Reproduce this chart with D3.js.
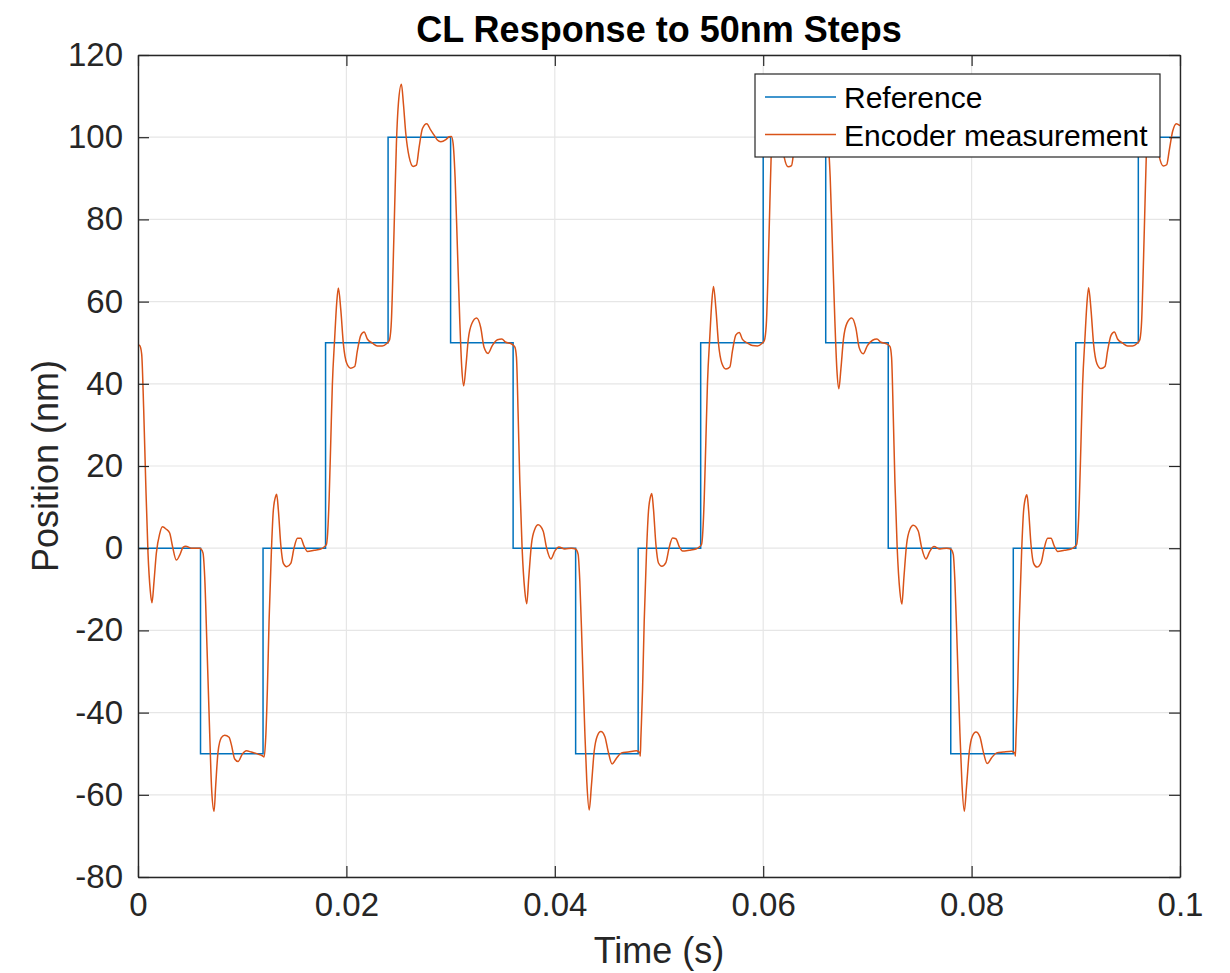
<!DOCTYPE html>
<html>
<head>
<meta charset="utf-8">
<script src="https://cdn.jsdelivr.net/npm/d3@7"></script>
<style>
  body { margin: 0; background: #fff; }
  text { font-family: "Liberation Sans", Arial, Helvetica, sans-serif; fill: #262626; }
</style>
</head>
<body>
<div id="chart"></div>
<script>
// reference (stairs): times where the level changes, and the level held after it
var refStepTimes = [0, 0.00002, 0.006, 0.012, 0.018, 0.024, 0.030, 0.036, 0.042, 0.048,
  0.054, 0.060, 0.066, 0.072, 0.078, 0.084, 0.090, 0.096];
var refLevels = [50, 0, -50, 0, 50, 100, 50, 0, -50, 0, 50, 100, 50, 0, -50, 0, 50, 100];

var encSeg01 = [[0, 49.5], [0.00016, 49.3], [0.00035, 47.3], [0.00055, 33.4], [0.00074, 16.1], [0.00096, -1.2],
  [0.00118, -10.4], [0.00134, -13.3], [0.00154, -8.0], [0.00176, -1.2], [0.00208, 3.5], [0.00234, 5.2],
  [0.00272, 4.6], [0.00304, 3.7], [0.0033, 0.6], [0.00368, -2.9], [0.0040, -1.7], [0.00432, 0.2],
  [0.00458, 0.5], [0.00512, 0.0], [0.00592, 0.0]];
var encSeg02 = [[0.00605, -0.2], [0.00624, -1.2], [0.0064, -6.9], [0.00662, -24], [0.00688, -45], [0.00707, -58.8],
  [0.0073, -64], [0.00746, -57.6], [0.00768, -49.6], [0.0080, -46.1], [0.00832, -45.5], [0.00874, -46],
  [0.00896, -47.8], [0.00928, -51.3], [0.0096, -51.9], [0.01001, -50.1], [0.0104, -49.3], [0.01088, -49.6],
  [0.01152, -50.1], [0.01193, -50.5]];
var encSeg03 = [[0.0121, -50.8], [0.01226, -46], [0.01242, -34], [0.01258, -17.6], [0.0128, -0.8], [0.01299, 9.3],
  [0.01322, 12.7], [0.01331, 13.1], [0.01347, 9.3], [0.0137, 0.9], [0.01395, -3.7], [0.01427, -4.5],
  [0.01466, -3.7], [0.01498, 0.1], [0.0153, 2.4], [0.01562, 2.4], [0.01594, 0.5], [0.01626, -0.8],
  [0.0169, -0.5], [0.01754, -0.2], [0.01786, 0.3]];
var encSeg04 = [[0.01808, 0.9], [0.01817, 2.6], [0.01834, 11.8], [0.0185, 26.1], [0.01865, 39.6], [0.01888, 51.3],
  [0.01907, 59.7], [0.01923, 63.3], [0.01946, 58.1], [0.01971, 49.7], [0.02003, 45], [0.02042, 43.8],
  [0.0208, 44.2], [0.02105, 48], [0.02138, 51.8], [0.0217, 52.6], [0.02201, 50.9], [0.0225, 49.9],
  [0.02297, 49.2], [0.02345, 49.2], [0.02387, 49.8]];
var encSeg05 = [[0.0241, 50.5], [0.02416, 50.9], [0.02432, 55.4], [0.02448, 68.4], [0.02464, 83.8], [0.0248, 98.5],
  [0.02499, 108.2], [0.02528, 112.9], [0.02547, 108.2], [0.0257, 100.9], [0.02602, 95.2], [0.0264, 92.9],
  [0.02672, 93.2], [0.02698, 97.6], [0.0273, 102.1], [0.02771, 103.3], [0.0281, 101.7], [0.02842, 100.5],
  [0.02873, 99.3], [0.02906, 98.9], [0.02954, 99.4], [0.02986, 100.1], [0.03008, 100.2]];
var encSeg06 = [[0.03024, 98.5], [0.03043, 90.3], [0.03065, 73.3], [0.03088, 55.4], [0.03107, 44], [0.03126, 39.5],
  [0.03146, 44], [0.0317, 50.9], [0.03203, 54.6], [0.0325, 56], [0.03289, 53.7], [0.03321, 48.9],
  [0.0336, 47.4], [0.034, 49.3], [0.0345, 50.7], [0.03491, 50.9], [0.0353, 50.1], [0.03578, 49.8]];
var encSeg07 = [[0.03616, 49.0], [0.03632, 46.5], [0.03648, 32.7], [0.03664, 16.4], [0.03686, 0.2], [0.03712, -10.4],
  [0.03731, -13.5], [0.0375, -7.2], [0.03776, 1], [0.03808, 4.6], [0.0384, 5.7], [0.03888, 4.2],
  [0.0392, 0.2], [0.03962, -2.6], [0.04, -0.7], [0.04039, 0.3], [0.04096, -0.2], [0.0416, 0], [0.04199, -0.2]];
var encSeg08 = [[0.04224, -1.5], [0.0424, -8], [0.04262, -24.2], [0.04288, -44.6], [0.04307, -56.7], [0.0433, -63.7],
  [0.04352, -57.6], [0.04378, -49.4], [0.04406, -45.8], [0.04442, -44.6], [0.0448, -45.8], [0.04512, -49.4],
  [0.0455, -52.5], [0.04592, -51.1], [0.0464, -49.8], [0.04704, -49.6], [0.04784, -49.3], [0.04816, -49.8]];
var encSeg09 = [[0.0482, -50.6], [0.04826, -46.2], [0.04842, -34.5], [0.04858, -17.8], [0.0488, -1.0], [0.04899, 9.0],
  [0.04921, 12.8], [0.04931, 13.3], [0.04947, 9.5], [0.0497, 1.0], [0.04995, -3.6], [0.05027, -4.4],
  [0.05066, -3.5], [0.05098, 0.2], [0.0513, 2.5], [0.05162, 2.3], [0.05194, 0.4], [0.05226, -0.7],
  [0.0529, -0.5], [0.05354, -0.2], [0.05386, 0.3]];
var encSeg10 = [[0.05408, 0.9], [0.05417, 2.7], [0.05434, 12], [0.0545, 26.3], [0.05465, 40], [0.05488, 51.6],
  [0.05507, 60], [0.05523, 63.7], [0.05546, 58.3], [0.05571, 49.8], [0.05603, 45], [0.05642, 43.6],
  [0.0568, 44.1], [0.05705, 48], [0.05738, 51.9], [0.0577, 52.5], [0.05801, 50.8], [0.0585, 49.9],
  [0.05897, 49.3], [0.05945, 49.2], [0.05987, 49.8]];
var encSeg11 = [[0.0601, 50.5], [0.06016, 51], [0.06032, 55.5], [0.06048, 68.5], [0.06064, 84], [0.0608, 98.6],
  [0.06099, 108.3], [0.06128, 113], [0.06147, 108.2], [0.0617, 100.8], [0.06202, 95.1], [0.0624, 92.8],
  [0.06272, 93.1], [0.06298, 97.6], [0.0633, 102.2], [0.06371, 103.3], [0.0641, 101.7], [0.06442, 100.4],
  [0.06473, 99.3], [0.06506, 98.9], [0.06554, 99.4], [0.06586, 100.1], [0.06608, 100.3]];
var encSeg12 = [[0.06624, 98.4], [0.06643, 90.2], [0.06665, 73], [0.06688, 55.2], [0.06707, 43.5], [0.06726, 38.8],
  [0.06746, 43.7], [0.0677, 50.8], [0.06803, 54.7], [0.0685, 56], [0.06889, 53.6], [0.06921, 48.8],
  [0.0696, 47.3], [0.07, 49.3], [0.0705, 50.6], [0.07091, 50.9], [0.0713, 50.1], [0.07178, 49.8]];
var encSeg13 = [[0.07216, 49.1], [0.07232, 46.4], [0.07248, 32.5], [0.07264, 16.2], [0.07286, 0], [0.07312, -10.6],
  [0.07331, -13.6], [0.0735, -7.3], [0.07376, 0.9], [0.07408, 4.6], [0.0744, 5.6], [0.07488, 4.2],
  [0.0752, 0.2], [0.07562, -2.6], [0.076, -0.7], [0.07639, 0.4], [0.07696, -0.2], [0.0776, 0], [0.07799, -0.2]];
var encSeg14 = [[0.07824, -1.5], [0.0784, -8.2], [0.07862, -24.5], [0.07888, -45], [0.07907, -57], [0.0793, -64],
  [0.07952, -57.8], [0.07978, -49.5], [0.08006, -45.8], [0.08042, -44.7], [0.0808, -45.9], [0.08112, -49.5],
  [0.0815, -52.4], [0.08192, -51], [0.0824, -49.8], [0.08304, -49.6], [0.08384, -49.4], [0.08416, -49.9]];
var encSeg15 = [[0.0842, -50.6], [0.08426, -46], [0.08442, -34.2], [0.08458, -17.6], [0.0848, -0.9], [0.08499, 9.1],
  [0.08521, 12.6], [0.08531, 13.0], [0.08547, 9.3], [0.0857, 0.9], [0.08595, -3.7], [0.08627, -4.6],
  [0.08666, -3.6], [0.08698, 0.1], [0.0873, 2.4], [0.08762, 2.4], [0.08794, 0.5], [0.08826, -0.8],
  [0.0889, -0.5], [0.08954, -0.2], [0.08986, 0.3]];
var encSeg16 = [[0.09008, 0.9], [0.09017, 2.6], [0.09034, 11.8], [0.0905, 26], [0.09065, 39.5], [0.09088, 51.2],
  [0.09107, 59.6], [0.09123, 63.4], [0.09146, 58], [0.09171, 49.6], [0.09203, 44.9], [0.09242, 43.7],
  [0.0928, 44.2], [0.09305, 48], [0.09338, 51.8], [0.0937, 52.6], [0.09401, 50.9], [0.0945, 49.9],
  [0.09497, 49.2], [0.09545, 49.2], [0.09587, 49.8]];
var encSeg17 = [[0.0961, 50.5], [0.09616, 50.9], [0.09632, 55.4], [0.09648, 68.4], [0.09664, 83.8], [0.0968, 98.5],
  [0.09699, 108.2], [0.09728, 112.9], [0.09747, 108.2], [0.0977, 100.9], [0.09802, 95.2], [0.0984, 93.0],
  [0.09872, 93.3], [0.09898, 97.0], [0.0993, 101.5], [0.09965, 103.3], [0.1, 102.8]];

var xTicks = [0, 0.02, 0.04, 0.06, 0.08, 0.1];
var xTickLabels = ["0", "0.02", "0.04", "0.06", "0.08", "0.1"];
var yTicks = [-80, -60, -40, -20, 0, 20, 40, 60, 80, 100, 120];
var yTickLabels = ["-80", "-60", "-40", "-20", "0", "20", "40", "60", "80", "100", "120"];

var seriesNames = ["Reference", "Encoder measurement"];
var seriesColors = ["#0072BD", "#D95319"];

var encoder = [].concat(encSeg01, encSeg02, encSeg03, encSeg04, encSeg05, encSeg06, encSeg07, encSeg08,
  encSeg09, encSeg10, encSeg11, encSeg12, encSeg13, encSeg14, encSeg15, encSeg16, encSeg17);

var reference = refStepTimes.map(function (t, i) { return [t, refLevels[i]]; });
reference.push([0.1, refLevels[refLevels.length - 1]]);

var margin = { top: 55, right: 50, bottom: 96, left: 138 },
  width = 1230 - margin.left - margin.right,
  height = 973 - margin.top - margin.bottom;

var svg = d3.select("#chart")
  .append("svg")
  .attr("width", 1230)
  .attr("height", 973);

var g = svg.append("g")
  .attr("transform", "translate(" + margin.left + "," + margin.top + ")");

var x = d3.scaleLinear().domain([0, 0.1]).range([0, width]);
var y = d3.scaleLinear().domain([-80, 120]).range([height, 0]);

// grid
g.append("g")
  .selectAll("line.gx")
  .data(xTicks)
  .enter()
  .append("line")
  .attr("x1", function (d) { return x(d); })
  .attr("x2", function (d) { return x(d); })
  .attr("y1", 0)
  .attr("y2", height)
  .style("stroke", "#e6e6e6")
  .style("stroke-width", 1.2);

g.append("g")
  .selectAll("line.gy")
  .data(yTicks)
  .enter()
  .append("line")
  .attr("x1", 0)
  .attr("x2", width)
  .attr("y1", function (d) { return y(d); })
  .attr("y2", function (d) { return y(d); })
  .style("stroke", "#e6e6e6")
  .style("stroke-width", 1.2);

svg.append("defs")
  .append("clipPath")
  .attr("id", "plotArea")
  .append("rect")
  .attr("x", 0)
  .attr("y", 0)
  .attr("width", width)
  .attr("height", height);

var plot = g.append("g").attr("clip-path", "url(#plotArea)");

var refLine = d3.line()
  .x(function (d) { return x(d[0]); })
  .y(function (d) { return y(d[1]); })
  .curve(d3.curveStepAfter);

var encLine = d3.line()
  .x(function (d) { return x(d[0]); })
  .y(function (d) { return y(d[1]); })
  .curve(d3.curveMonotoneX);

plot.append("path")
  .datum(reference)
  .attr("d", refLine)
  .style("fill", "none")
  .style("stroke", seriesColors[0])
  .style("stroke-width", 1.5);

plot.append("path")
  .datum(encoder)
  .attr("d", encLine)
  .style("fill", "none")
  .style("stroke", seriesColors[1])
  .style("stroke-width", 1.5);

// axes, ticks pointing inwards on all four sides
var axisColor = "#262626";

function styleAxis(sel) {
  sel.selectAll("path").style("stroke", axisColor).style("stroke-width", 1.4);
  sel.selectAll("line").style("stroke", axisColor).style("stroke-width", 1.2);
  sel.selectAll("text").style("font-size", "33px").style("fill", axisColor);
}

g.append("g")
  .attr("transform", "translate(0," + height + ")")
  .call(d3.axisBottom(x).tickValues(xTicks).tickSize(-11).tickSizeOuter(0).tickPadding(16)
    .tickFormat(function (d, i) { return xTickLabels[i]; }))
  .call(styleAxis);

g.append("g")
  .call(d3.axisTop(x).tickValues(xTicks).tickSize(-11).tickSizeOuter(0).tickFormat(""))
  .call(styleAxis);

g.append("g")
  .call(d3.axisLeft(y).tickValues(yTicks).tickSize(-11).tickSizeOuter(0).tickPadding(15)
    .tickFormat(function (d, i) { return yTickLabels[i]; }))
  .call(styleAxis);

g.append("g")
  .attr("transform", "translate(" + width + ",0)")
  .call(d3.axisRight(y).tickValues(yTicks).tickSize(-11).tickSizeOuter(0).tickFormat(""))
  .call(styleAxis);

g.selectAll(".domain").style("fill", "none");

// title and axis labels
svg.append("text")
  .attr("x", margin.left + width / 2)
  .attr("y", 42)
  .attr("text-anchor", "middle")
  .style("font-size", "36px")
  .style("font-weight", "bold")
  .style("fill", "#000")
  .text("CL Response to 50nm Steps");

svg.append("text")
  .attr("x", margin.left + width / 2)
  .attr("y", 963)
  .attr("text-anchor", "middle")
  .style("font-size", "36px")
  .text("Time (s)");

svg.append("text")
  .attr("transform", "translate(58," + (margin.top + height / 2) + ") rotate(-90)")
  .attr("text-anchor", "middle")
  .style("font-size", "36px")
  .text("Position (nm)");

// legend
var legend = svg.append("g").attr("transform", "translate(755,74)");

legend.append("rect")
  .attr("width", 405)
  .attr("height", 83)
  .style("fill", "#fff")
  .style("stroke", axisColor)
  .style("stroke-width", 1.2);

seriesNames.forEach(function (name, i) {
  var ly = 23 + i * 37.5;
  legend.append("line")
    .attr("x1", 10)
    .attr("x2", 81)
    .attr("y1", ly)
    .attr("y2", ly)
    .style("stroke", seriesColors[i])
    .style("stroke-width", 1.5);
  legend.append("text")
    .attr("x", 89)
    .attr("y", ly + 11)
    .style("font-size", "30px")
    .style("fill", "#000")
    .text(name);
});
</script>
</body>
</html>
